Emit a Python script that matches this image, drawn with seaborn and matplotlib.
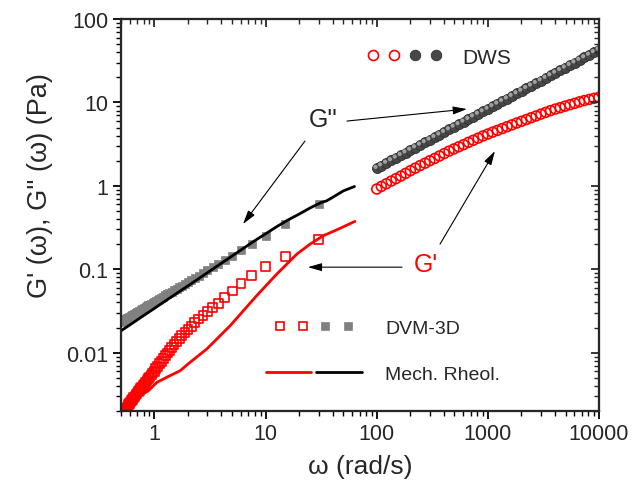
import numpy as np
import pandas as pd
import matplotlib
matplotlib.use("Agg")
import matplotlib.pyplot as plt
import seaborn as sns
from matplotlib.lines import Line2D
from matplotlib.legend_handler import HandlerTuple
from matplotlib.ticker import FuncFormatter, LogLocator, NullFormatter
from matplotlib.transforms import offset_copy

# ---------------- data ----------------
dws_omega = [100, 110, 122, 135, 149, 165, 182, 201, 222, 246, 272, 300, 332, 367, 405,
             448, 495, 547, 605, 669, 739, 817, 903, 998, 1103, 1219, 1347, 1489, 1646,
             1819, 2010, 2222, 2456, 2714, 3000, 3316, 3665, 4050, 4477, 4948, 5469,
             6044, 6680, 7384, 8161, 9020, 9970]
dws_g2 = [1.63, 1.75, 1.88, 2.02, 2.17, 2.33, 2.50, 2.69, 2.88, 3.10, 3.32, 3.57, 3.83,
          4.11, 4.41, 4.74, 5.09, 5.46, 5.86, 6.30, 6.76, 7.26, 7.79, 8.36, 8.98, 9.64,
          10.35, 11.1, 11.9, 12.8, 13.75, 14.8, 15.85, 17.0, 18.3, 19.6, 21.05, 22.6,
          24.3, 26.05, 28.0, 30.0, 32.2, 34.6, 37.15, 39.9, 42.8]
dws_g1 = [0.916, 0.984, 1.06, 1.14, 1.22, 1.31, 1.41, 1.52, 1.63, 1.75, 1.87, 2.00, 2.13,
          2.28, 2.44, 2.61, 2.77, 2.94, 3.12, 3.32, 3.52, 3.73, 3.96, 4.18, 4.40, 4.62,
          4.86, 5.12, 5.38, 5.66, 5.94, 6.24, 6.56, 6.89, 7.24, 7.60, 7.98, 8.32, 8.65,
          9.02, 9.38, 9.75, 10.16, 10.54, 10.86, 11.19, 11.53]

dvm_omega = [30, 15, 10, 7.5, 6, 5, 4.29, 3.75, 3.33, 3, 2.73, 2.5, 2.31, 2.14, 2, 1.88,
             1.76, 1.67, 1.58, 1.5, 1.43, 1.36, 1.30, 1.25, 1.2, 1.15, 1.11, 1.07, 1.03,
             1.0, 0.968, 0.938, 0.909, 0.882, 0.857, 0.833, 0.811, 0.789, 0.769, 0.75,
             0.732, 0.714, 0.698, 0.682, 0.667, 0.652, 0.638, 0.625, 0.612, 0.6, 0.588,
             0.577, 0.566, 0.556, 0.545, 0.536, 0.526, 0.517, 0.508, 0.5]
dvm_g1 = [0.225, 0.141, 0.108, 0.0834, 0.0670, 0.0548, 0.0455, 0.0392, 0.0346, 0.0309,
          0.0279, 0.0253, 0.0228, 0.0207, 0.0189, 0.0173, 0.0160, 0.0148, 0.0137, 0.0126,
          0.0116, 0.0107, 0.0099, 0.0092, 0.0085, 0.0079, 0.0074, 0.0069, 0.0064, 0.0060,
          0.0057, 0.0054, 0.0051, 0.0049, 0.0046, 0.0044, 0.0042, 0.0040, 0.00385, 0.0037,
          0.00353, 0.0034, 0.00326, 0.00313, 0.0030, 0.00288, 0.00277, 0.00266, 0.00256,
          0.00246, 0.00238, 0.00229, 0.00221, 0.00213, 0.00206, 0.00199, 0.00192,
          0.00186, 0.0018, 0.00174]
dvm_g2 = [0.603, 0.348, 0.252, 0.201, 0.168, 0.146, 0.129, 0.116, 0.105, 0.097, 0.090,
          0.0839, 0.0788, 0.0743, 0.0703, 0.0668, 0.0638, 0.0610, 0.0583, 0.0560, 0.0540,
          0.0520, 0.0501, 0.0485, 0.0469, 0.0455, 0.0442, 0.0428, 0.0418, 0.0407, 0.0396,
          0.0386, 0.0377, 0.0368, 0.0360, 0.0352, 0.0344, 0.0337, 0.0330, 0.0324, 0.0317,
          0.0311, 0.0305, 0.0300, 0.0294, 0.0289, 0.0284, 0.0280, 0.0275, 0.0271, 0.0267,
          0.0262, 0.0259, 0.0255, 0.0251, 0.0248, 0.0244, 0.0241, 0.0238, 0.0234]

mech_omega_g2 = [0.5, 0.631, 0.794, 1.0, 1.259, 1.585, 1.995, 2.512, 3.162, 3.981, 5.012,
                 6.31, 7.943, 10, 12.59, 15.85, 19.95, 25.12, 31.62, 35.48, 39.81, 50.12, 63.1]
mech_g2 = [0.0183, 0.0225, 0.0277, 0.0340, 0.0419, 0.0515, 0.0631, 0.0776, 0.0955, 0.1175,
           0.1445, 0.178, 0.219, 0.266, 0.324, 0.389, 0.457, 0.543, 0.631, 0.661, 0.724,
           0.871, 0.982]
mech_omega_g1 = [0.5, 0.543, 0.6, 0.7, 0.88, 1.05, 1.3, 1.7, 2.09, 2.95, 4.79, 8.3, 12.6,
                 19.1, 25.1, 33, 46.7, 63.7]
mech_g1 = [0.0019, 0.00211, 0.0025, 0.00295, 0.00349, 0.0044, 0.0051, 0.00607, 0.00766,
           0.01104, 0.0210, 0.0481, 0.0875, 0.152, 0.200, 0.252, 0.309, 0.375]

x_ticks = [1, 10, 100, 1000, 10000]
y_ticks = [0.01, 0.1, 1, 10, 100]

# ---------------- style ----------------
sns.set_style("ticks")
plt.rcParams["font.family"] = ["Liberation Sans", "DejaVu Sans"]
plt.rcParams["axes.linewidth"] = 1.5

RED = "#ff0000"
GRAY_SQ = "#808080"
SPHERE = "#474747"

fig = plt.figure(figsize=(6.33, 4.89), dpi=100)
W, H = 633, 489
ax = fig.add_axes([121 / W, 1 - 412 / H, 478 / W, 392 / H])
ax.set_xscale("log")
ax.set_yscale("log")

# ---------------- data layers ----------------
dvm = pd.DataFrame({"omega": dvm_omega, "g1": dvm_g1, "g2": dvm_g2})
dws = pd.DataFrame({"omega": dws_omega, "g1": dws_g1, "g2": dws_g2})

sns.scatterplot(data=dvm, x="omega", y="g2", ax=ax, marker="s", s=34,
                color=GRAY_SQ, edgecolor=GRAY_SQ, linewidth=0.5, zorder=2)
sns.scatterplot(data=dvm, x="omega", y="g1", ax=ax, marker="s", s=40,
                facecolors="none", edgecolor=RED, linewidth=1.2, zorder=3)

sns.lineplot(x=mech_omega_g2, y=mech_g2, ax=ax, color="black", lw=2.0,
             sort=False, estimator=None, zorder=4)
sns.lineplot(x=mech_omega_g1, y=mech_g1, ax=ax, color=RED, lw=2.0,
             sort=False, estimator=None, zorder=4)

# DWS: shaded grey spheres (dark disc + offset lighter highlight)
sns.scatterplot(data=dws, x="omega", y="g2", ax=ax, marker="o", s=52,
                color=SPHERE, edgecolor="#303030", linewidth=0.6, zorder=3)
hl = offset_copy(ax.transData, fig=fig, x=-0.9, y=0.9, units="points")
ax.scatter(dws["omega"], dws["g2"], s=9, color="#a0a0a0", edgecolor="none",
           transform=hl, zorder=3.5)
sns.scatterplot(data=dws, x="omega", y="g1", ax=ax, marker="o", s=50,
                facecolors="none", edgecolor=RED, linewidth=1.2, zorder=3)

# ---------------- axes ----------------
fmt = FuncFormatter(lambda v, _: f"{v:g}")
ax.set_xticks(x_ticks)
ax.set_yticks(y_ticks)
ax.xaxis.set_minor_locator(LogLocator(base=10, subs=np.arange(2, 10), numticks=20))
ax.yaxis.set_minor_locator(LogLocator(base=10, subs=np.arange(2, 10), numticks=20))
ax.xaxis.set_major_formatter(fmt)
ax.yaxis.set_major_formatter(fmt)
ax.xaxis.set_minor_formatter(NullFormatter())
ax.yaxis.set_minor_formatter(NullFormatter())
ax.set_xlim(0.5, 10000)
ax.set_ylim(0.002, 100)
ax.tick_params(which="both", direction="out", top=False, right=False,
               labelsize=15.5, color="black")
ax.tick_params(which="major", length=6, width=1.3, pad=3)
ax.tick_params(which="minor", length=3.5, width=1.0)
for s in ax.spines.values():
    s.set_visible(True)
    s.set_linewidth(1.5)
    s.set_color("black")

axt = ax.twiny()
axt.set_xscale("log")
axt.set_xlim(ax.get_xlim())
axt.xaxis.set_minor_locator(LogLocator(base=10, subs=np.arange(2, 10), numticks=20))
axt.tick_params(which="both", direction="in", labeltop=False, top=True, bottom=False)
axt.tick_params(which="major", length=6, width=1.3)
axt.tick_params(which="minor", length=3.5, width=1.0)
axr = ax.twinx()
axr.set_yscale("log")
axr.set_ylim(ax.get_ylim())
axr.yaxis.set_minor_locator(LogLocator(base=10, subs=np.arange(2, 10), numticks=20))
axr.tick_params(which="both", direction="in", labelright=False, right=True, left=False)
axr.tick_params(which="major", length=6, width=1.3)
axr.tick_params(which="minor", length=3.5, width=1.0)
for a in (axt, axr):
    for s in a.spines.values():
        s.set_linewidth(1.5)

ax.set_xlabel("ω (rad/s)", fontsize=19)
ax.xaxis.set_label_coords(0.5, -(455 - 412) / 392)
ax.set_ylabel("G' (ω), G'' (ω) (Pa)", fontsize=19.5)
ax.yaxis.set_label_coords(-(121 - 53) / 478, 1 - (186 - 20) / 392)

# ---------------- annotations ----------------
arw = dict(arrowstyle="-|>,head_length=0.7,head_width=0.2", color="black",
           lw=0.8, mutation_scale=12, shrinkA=0, shrinkB=0)
ax.text(32.8, 6.32, "G''", fontsize=18, ha="center", va="center", zorder=6)
ax.annotate("", xy=(648, 8.33), xytext=(54, 5.98), arrowprops=arw, zorder=6)
ax.annotate("", xy=(6.26, 0.348), xytext=(22.6, 3.44), arrowprops=arw, zorder=6)
ax.text(277, 0.115, "G'", fontsize=18, color=RED, ha="center", va="center", zorder=6)
ax.annotate("", xy=(24, 0.106), xytext=(169, 0.106), arrowprops=arw, zorder=6)
ax.annotate("", xy=(1158, 2.61), xytext=(371, 0.2), arrowprops=arw, zorder=6)

# ---------------- legends ----------------
h_rc = Line2D([], [], ls="", marker="o", ms=7.2, mfc="none", mec=RED, mew=1.2)
h_gs = Line2D([], [], ls="", marker="o", ms=7.6, mfc=SPHERE, mec="#303030", mew=0.6)
dws_handle = (h_rc, h_rc, h_gs, h_gs)
leg1 = ax.legend([dws_handle], ["DWS"], loc="center left",
                 bbox_to_anchor=(0.506, 0.903), frameon=False, fontsize=15,
                 handlelength=4.0, handletextpad=0.75, borderpad=0, borderaxespad=0,
                 handler_map={dws_handle: HandlerTuple(ndivide=None, pad=0.0)})
ax.add_artist(leg1)

h_rs = Line2D([], [], ls="", marker="s", ms=6.2, mfc="none", mec=RED, mew=1.2)
h_gq = Line2D([], [], ls="", marker="s", ms=6.2, mfc=GRAY_SQ, mec=GRAY_SQ, mew=0.5)
dvm_handle = (h_rs, h_rs, h_gq, h_gq)
h_rl = Line2D([], [], color=RED, lw=2)
h_kl = Line2D([], [], color="black", lw=2)
mech_handle = (h_rl, h_kl)
leg2 = ax.legend([dvm_handle, mech_handle], ["DVM-3D", "Mech. Rheol."],
                 loc="center left", bbox_to_anchor=(0.303, 0.152), frameon=False,
                 fontsize=14, handlelength=4.95, handletextpad=1.19, borderpad=0,
                 borderaxespad=0, labelspacing=1.46,
                 handler_map={dvm_handle: HandlerTuple(ndivide=None, pad=-0.27),
                              mech_handle: HandlerTuple(ndivide=None, pad=0.26)})

fig.savefig("out.png", dpi=100)
